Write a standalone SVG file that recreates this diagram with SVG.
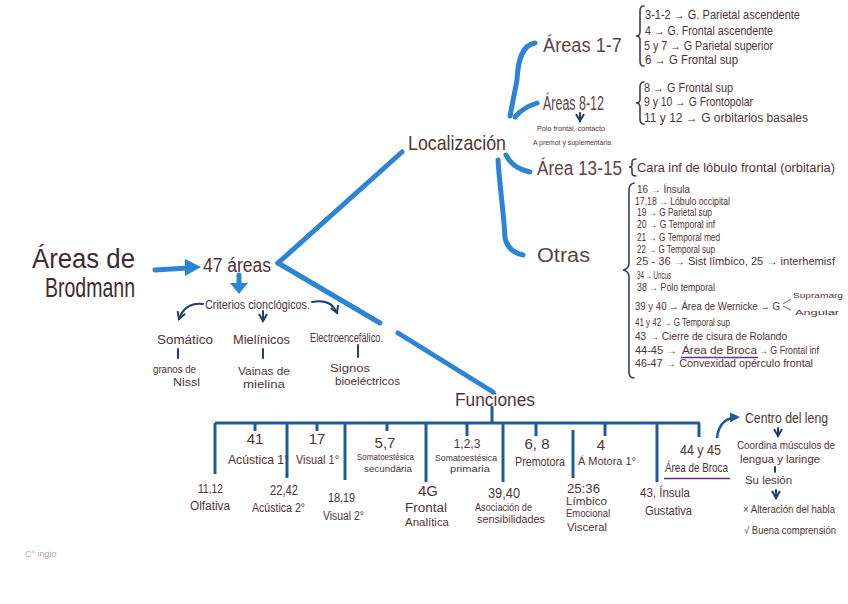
<svg xmlns="http://www.w3.org/2000/svg" width="848" height="604" viewBox="0 0 848 604">
<style>
text{font-family:"Liberation Sans",Arial,sans-serif;fill:#4d3535}
.big{font-size:28px;fill:#3e2c2c}
.m{font-size:20px;fill:#5a4444}
.s{font-size:12px}
.xs{font-size:10px}
.xxs{font-size:8px}
.num{font-size:15px}
.blue{stroke:#2c84d6;stroke-width:5;fill:none;stroke-linecap:round}
.bar{stroke:#1f5b99;stroke-width:3;fill:none}
.nav{stroke:#21406e;stroke-width:2;fill:none;stroke-linecap:round}
.brace{stroke:#3b3f5c;stroke-width:1.6;fill:none;stroke-linecap:round}
.ul{stroke:#6b2d8a;stroke-width:1.5}
</style>
<defs>
<marker id="ah" viewBox="0 0 10 10" refX="8" refY="5" markerWidth="5" markerHeight="5" orient="auto-start-reverse">
<path d="M1,1 L8,5 L1,9" fill="none" stroke="#21406e" stroke-width="2"/>
</marker>
<marker id="ahf" viewBox="0 0 10 10" refX="8" refY="5" markerWidth="4" markerHeight="4" orient="auto">
<path d="M0,0 L10,5 L0,10 Z" fill="#1f5b99"/>
</marker>
</defs>

<g id="connectors">
<line class="blue" x1="155" y1="270" x2="188" y2="268"/>
<polygon points="185,259 201,267 185,276" fill="#2c84d6"/>
<line class="blue" x1="239" y1="275" x2="239" y2="286"/>
<polygon points="230,283 239,294 248,283" fill="#2c84d6"/>
<line class="blue" x1="278" y1="263" x2="402" y2="152"/>
<line class="blue" x1="278" y1="263" x2="380" y2="323"/>
<line class="blue" x1="398" y1="333" x2="493" y2="392"/>
<path class="blue" d="M535,43 C522,45 518,60 517,80 L510,116"/>
<path class="blue" d="M515,117 Q522,108 537,103"/>
<path class="blue" d="M506,155 Q512,168 530,172"/>
<path class="blue" d="M498,160 C500,190 504,215 505,238 Q508,252 523,255"/>
<path class="nav" d="M203,304 Q185,302 179,319" marker-end="url(#ah)"/>
<line class="nav" x1="263" y1="311" x2="263" y2="321" marker-end="url(#ah)"/>
<path class="nav" d="M312,302 Q331,298 337,313" marker-end="url(#ah)"/>
<line class="nav" x1="178" y1="349" x2="178" y2="358"/>
<line class="nav" x1="263" y1="349" x2="263" y2="358"/>
<line class="nav" x1="358" y1="345" x2="358" y2="357"/>
<line class="bar" x1="215" y1="423" x2="700" y2="423"/>
<line class="bar" x1="492" y1="406" x2="492" y2="423"/>
<line class="bar" x1="215" y1="423" x2="215" y2="474"/>
<line class="bar" x1="255" y1="423" x2="255" y2="431"/>
<line class="bar" x1="287" y1="423" x2="287" y2="478"/>
<line class="bar" x1="317" y1="423" x2="317" y2="431"/>
<line class="bar" x1="345" y1="423" x2="345" y2="480"/>
<line class="bar" x1="387" y1="423" x2="387" y2="431"/>
<line class="bar" x1="426" y1="423" x2="426" y2="482"/>
<line class="bar" x1="467" y1="423" x2="467" y2="436"/>
<line class="bar" x1="503" y1="423" x2="503" y2="482"/>
<line class="bar" x1="536" y1="423" x2="536" y2="436"/>
<line class="bar" x1="573" y1="430" x2="573" y2="478"/>
<line class="bar" x1="605" y1="423" x2="605" y2="436"/>
<line class="bar" x1="657" y1="423" x2="657" y2="482"/>
<line class="bar" x1="699" y1="423" x2="699" y2="437"/>
<path d="M717,438 Q719,418 738,417" fill="none" stroke="#1f5b99" stroke-width="2.5" marker-end="url(#ahf)"/>
<line class="nav" x1="778" y1="428" x2="778" y2="436" stroke-width="1.2" marker-end="url(#ah)"/>
<line class="nav" x1="775" y1="467" x2="775" y2="472" stroke-width="1.2"/>
<line class="nav" x1="776" y1="490" x2="776" y2="498" stroke-width="1.2" marker-end="url(#ah)"/>
<line class="nav" x1="580" y1="113" x2="580" y2="121" stroke-width="1" marker-end="url(#ah)"/>
</g>

<g id="title">
<text class="big" x="32" y="268" textLength="103" lengthAdjust="spacingAndGlyphs">Áreas de</text>
<text class="big" x="45" y="297" textLength="90" lengthAdjust="spacingAndGlyphs">Brodmann</text>
</g>
<g id="n47">
<text x="203" y="272" font-size="20" textLength="68" lengthAdjust="spacingAndGlyphs">47 áreas</text>
</g>

<g id="localizacion">
<text x="408" y="150" font-size="21" textLength="98" lengthAdjust="spacingAndGlyphs">Localización</text>
</g>

<g id="areas17">
<text class="m" x="543" y="52" font-size="18" textLength="79" lengthAdjust="spacingAndGlyphs">Áreas 1-7</text>
<path class="brace" d="M644,6 Q640,6 640,11 L640,32 Q640,36 636,36 Q640,36 640,40 L640,61 Q640,66 644,66"/>
<text class="s" x="645" y="19" textLength="155" lengthAdjust="spacingAndGlyphs">3-1-2 → G. Parietal ascendente</text>
<text class="s" x="645" y="35" textLength="128" lengthAdjust="spacingAndGlyphs">4 → G. Frontal ascendente</text>
<text class="s" x="644" y="50" textLength="129" lengthAdjust="spacingAndGlyphs">5 y 7 → G Parietal superior</text>
<text class="s" x="645" y="64" textLength="93" lengthAdjust="spacingAndGlyphs">6 → G Frontal sup</text>
</g>

<g id="areas812">
<text class="m" x="543" y="110" font-size="17" textLength="61" lengthAdjust="spacingAndGlyphs">Áreas 8-12</text>
<text class="xxs" x="537" y="131" textLength="68" lengthAdjust="spacingAndGlyphs">Polo frontal, contacto</text>
<text class="xxs" x="533" y="145" textLength="78" lengthAdjust="spacingAndGlyphs">A premot y suplementaria</text>
<path class="brace" d="M644,82 Q640,82 640,87 L640,99 Q640,103 636,103 Q640,103 640,107 L640,119 Q640,124 644,124"/>
<text class="s" x="644" y="92" textLength="89" lengthAdjust="spacingAndGlyphs">8 → G Frontal sup</text>
<text class="s" x="644" y="106" textLength="109" lengthAdjust="spacingAndGlyphs">9 y 10 → G Frontopolar</text>
<text class="s" x="644" y="122" font-size="13" textLength="164" lengthAdjust="spacingAndGlyphs">11 y 12 → G orbitarios basales</text>
</g>

<g id="area1315">
<text class="m" x="537" y="175" font-size="18" textLength="85" lengthAdjust="spacingAndGlyphs">Área 13-15</text>
<path class="brace" d="M636,159 Q632,159 632,162 L632,165 Q632,167 629,167 Q632,167 632,169 L632,173 Q632,176 636,176"/>
<text x="637" y="172" font-size="12" textLength="198" lengthAdjust="spacingAndGlyphs">Cara inf de lóbulo frontal (orbitaria)</text>
</g>

<g id="otras">
<text class="m" x="537" y="262" font-size="21" textLength="53" lengthAdjust="spacingAndGlyphs">Otras</text>
<path class="brace" d="M634,183 Q629,184 629,190 L629,263 Q629,269 623,270 Q629,271 629,277 L629,372 Q629,378 634,378"/>
<text class="xs" x="637" y="193" textLength="53" lengthAdjust="spacingAndGlyphs">16 → Ínsula</text>
<text class="xs" x="635" y="205" textLength="95" lengthAdjust="spacingAndGlyphs">17,18 → Lóbulo occipital</text>
<text class="xs" x="637" y="216" textLength="75" lengthAdjust="spacingAndGlyphs">19 → G Parietal sup</text>
<text class="xs" x="637" y="228" textLength="78" lengthAdjust="spacingAndGlyphs">20 → G Temporal inf</text>
<text class="xs" x="637" y="241" textLength="83" lengthAdjust="spacingAndGlyphs">21 → G Temporal med</text>
<text class="xs" x="637" y="253" textLength="78" lengthAdjust="spacingAndGlyphs">22 → G Temporal sup</text>
<text class="xs" x="636" y="265" textLength="199" lengthAdjust="spacingAndGlyphs">25 - 36 → Sist límbico, 25 → interhemisf</text>
<text class="xs" x="637" y="279" textLength="34" lengthAdjust="spacingAndGlyphs">34 → Uncus</text>
<text class="xs" x="637" y="291" textLength="78" lengthAdjust="spacingAndGlyphs">38 → Polo temporal</text>
<text x="635" y="310" font-size="10.5" textLength="145" lengthAdjust="spacingAndGlyphs">39 y 40 → Área de Wernicke → G</text>
<path d="M783,304 L791,299 M783,306 L791,310" stroke="#4d3535" stroke-width="0.8" fill="none"/>
<text x="793" y="298" font-size="7" textLength="50" lengthAdjust="spacingAndGlyphs">Supramarg</text>
<text x="795" y="315" font-size="7" textLength="44" lengthAdjust="spacingAndGlyphs">Angular</text>
<text class="xs" x="635" y="326" textLength="95" lengthAdjust="spacingAndGlyphs">41 y 42 → G Temporal sup</text>
<text class="xs" x="635" y="340" textLength="152" lengthAdjust="spacingAndGlyphs">43 → Cierre de cisura de Rolando</text>
<text class="xs" x="635" y="354" textLength="42" lengthAdjust="spacingAndGlyphs">44-45 →</text>
<text class="xs" x="682" y="354" textLength="75" lengthAdjust="spacingAndGlyphs">Área de Broca</text>
<line class="ul" x1="681" y1="357.5" x2="758" y2="357.5"/>
<text class="xs" x="759" y="354" textLength="60" lengthAdjust="spacingAndGlyphs">→ G Frontal inf</text>
<text class="xs" x="635" y="367" textLength="178" lengthAdjust="spacingAndGlyphs">46-47 → Convexidad opérculo frontal</text>
</g>

<g id="criterios">
<text class="s" x="205" y="309" font-size="11" textLength="105" lengthAdjust="spacingAndGlyphs">Criterios cionclógicos.</text>
</g>
<g id="somatico">
<text class="s" x="157" y="344" textLength="56" lengthAdjust="spacingAndGlyphs">Somático</text>
<text class="xs" x="153" y="373" textLength="43" lengthAdjust="spacingAndGlyphs">granos de</text>
<text class="xs" x="173" y="386" textLength="27" lengthAdjust="spacingAndGlyphs">Nissl</text>
</g>
<g id="mielinicos">
<text x="233" y="344" font-size="13" textLength="57" lengthAdjust="spacingAndGlyphs">Mielínicos</text>
<text class="xs" x="238" y="375" textLength="52" lengthAdjust="spacingAndGlyphs">Vainas de</text>
<text class="xs" x="243" y="388" textLength="42" lengthAdjust="spacingAndGlyphs">mielina</text>
</g>
<g id="electro">
<text class="s" x="310" y="342" font-size="11" textLength="73" lengthAdjust="spacingAndGlyphs">Electroencefálico.</text>
<text class="xs" x="330" y="372" textLength="40" lengthAdjust="spacingAndGlyphs">Signos</text>
<text class="xs" x="335" y="385" textLength="65" lengthAdjust="spacingAndGlyphs">bioeléctricos</text>
</g>

<g id="funciones">
<text x="455" y="406" font-size="19" textLength="80" lengthAdjust="spacingAndGlyphs">Funciones</text>
</g>
<g id="f41"><text class="num" x="255" y="444" text-anchor="middle" font-size="17">41</text><text class="s" x="228" y="464" textLength="61" lengthAdjust="spacingAndGlyphs">Acústica 1°</text></g>
<g id="f17"><text class="num" x="317" y="444" text-anchor="middle" font-size="17">17</text><text class="s" x="296" y="464" textLength="43" lengthAdjust="spacingAndGlyphs">Visual 1°</text></g>
<g id="f57"><text class="num" x="385" y="448" text-anchor="middle">5,7</text><text x="357" y="460" font-size="9" textLength="57" lengthAdjust="spacingAndGlyphs">Somatoestésica</text><text x="364" y="472" font-size="9" textLength="48" lengthAdjust="spacingAndGlyphs">secundaria</text></g>
<g id="f123"><text class="s" x="467" y="448" text-anchor="middle" font-size="13">1,2,3</text><text x="435" y="461" font-size="9" textLength="62" lengthAdjust="spacingAndGlyphs">Somatoestésica</text><text x="450" y="472" font-size="9" textLength="40" lengthAdjust="spacingAndGlyphs">primaria</text></g>
<g id="f68"><text class="num" x="537" y="449" text-anchor="middle">6, 8</text><text x="515" y="466" font-size="13" textLength="50" lengthAdjust="spacingAndGlyphs">Premotora</text></g>
<g id="f4"><text class="num" x="601" y="450" text-anchor="middle">4</text><text class="xs" x="578" y="465" textLength="58" lengthAdjust="spacingAndGlyphs">Á Motora 1°</text></g>
<g id="f4445"><text class="num" x="680" y="455" textLength="41" lengthAdjust="spacingAndGlyphs">44 y 45</text><text class="s" x="665" y="472" textLength="63" lengthAdjust="spacingAndGlyphs">Área de Broca</text><line class="ul" x1="664" y1="478.5" x2="730" y2="478.5"/></g>
<g id="f1112"><text class="s" x="198" y="493" textLength="25" lengthAdjust="spacingAndGlyphs">11,12</text><text class="s" x="190" y="510" textLength="40" lengthAdjust="spacingAndGlyphs">Olfativa</text></g>
<g id="f2242"><text class="num" x="270" y="495" textLength="28" lengthAdjust="spacingAndGlyphs">22,42</text><text class="s" x="252" y="512" textLength="53" lengthAdjust="spacingAndGlyphs">Acústica 2°</text></g>
<g id="f1819"><text class="s" x="328" y="502" font-size="13" textLength="27" lengthAdjust="spacingAndGlyphs">18,19</text><text class="s" x="323" y="520" textLength="41" lengthAdjust="spacingAndGlyphs">Visual 2°</text></g>
<g id="f46"><text class="num" x="418" y="496">4G</text><text class="s" x="405" y="512" textLength="42" lengthAdjust="spacingAndGlyphs">Frontal</text><text class="xs" x="405" y="526" textLength="44" lengthAdjust="spacingAndGlyphs">Analítica</text></g>
<g id="f3940"><text class="num" x="488" y="498" textLength="32" lengthAdjust="spacingAndGlyphs">39,40</text><text class="xs" x="475" y="511" font-size="9" textLength="57" lengthAdjust="spacingAndGlyphs">Asociación de</text><text class="xs" x="477" y="523" font-size="9" textLength="68" lengthAdjust="spacingAndGlyphs">sensibilidades</text></g>
<g id="f2536"><text class="s" x="567" y="493" font-size="13" textLength="33" lengthAdjust="spacingAndGlyphs">25:36</text><text class="xs" x="566" y="505" font-size="9" textLength="41" lengthAdjust="spacingAndGlyphs">Límbico</text><text class="xs" x="566" y="517" font-size="9" textLength="44" lengthAdjust="spacingAndGlyphs">Emocional</text><text class="xs" x="567" y="531" textLength="40" lengthAdjust="spacingAndGlyphs">Visceral</text></g>
<g id="f43"><text class="s" x="640" y="497" font-size="13" textLength="50" lengthAdjust="spacingAndGlyphs">43, Ínsula</text><text class="s" x="645" y="515" textLength="47" lengthAdjust="spacingAndGlyphs">Gustativa</text></g>

<g id="broca-detail">
<text x="745" y="423" font-size="14" textLength="83" lengthAdjust="spacingAndGlyphs">Centro del leng</text>
<text class="xs" x="737" y="449" textLength="98" lengthAdjust="spacingAndGlyphs">Coordina músculos de</text>
<text class="xs" x="740" y="463" textLength="80" lengthAdjust="spacingAndGlyphs">lengua y laringe</text>
<text class="xs" x="745" y="484" textLength="47" lengthAdjust="spacingAndGlyphs">Su lesión</text>
<text class="xs" x="743" y="513" textLength="92" lengthAdjust="spacingAndGlyphs">× Alteración del habla</text>
<text class="xs" x="744" y="534" textLength="92" lengthAdjust="spacingAndGlyphs">√ Buena comprensión</text>
</g>

<text x="25" y="557" font-size="9" style="fill:#c0a8a8">C° ingio</text>
</svg>
